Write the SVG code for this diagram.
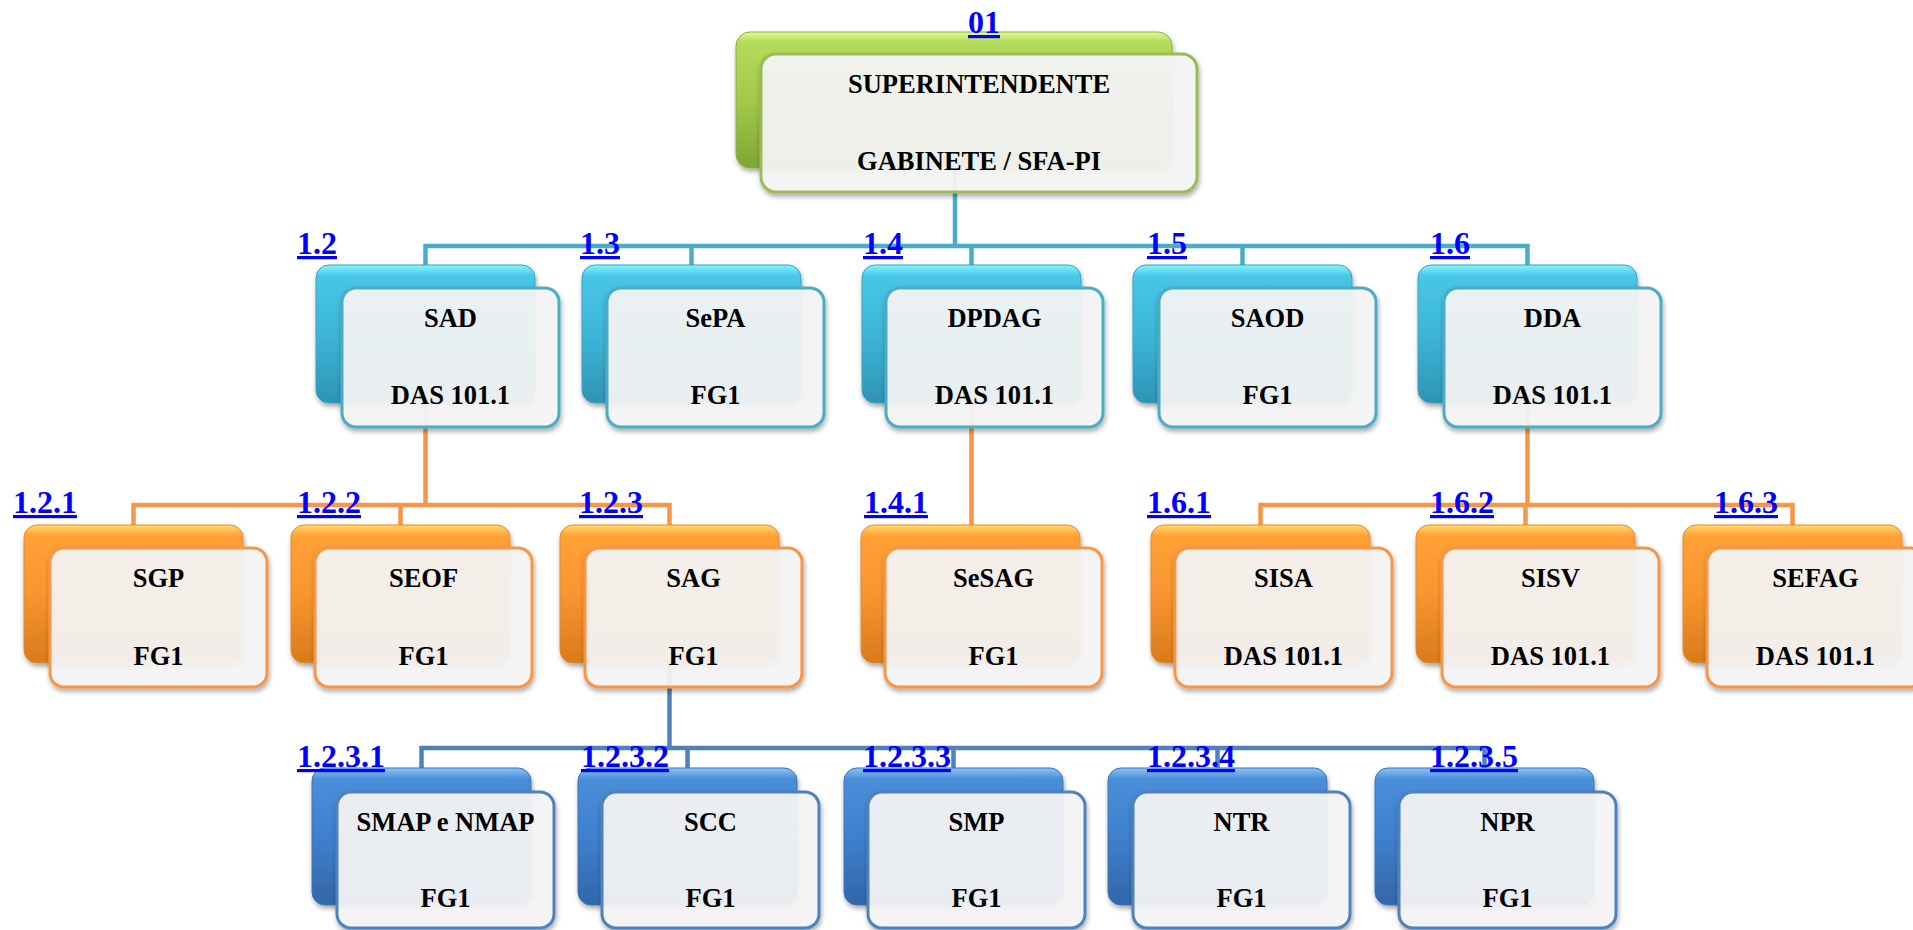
<svg xmlns="http://www.w3.org/2000/svg" width="1913" height="930" viewBox="0 0 1913 930">
<defs>
<linearGradient id="gG" x1="0" y1="0" x2="0" y2="1">
<stop offset="0" stop-color="#E2FA96"/><stop offset="0.07" stop-color="#B4DC5A"/><stop offset="0.5" stop-color="#A2CA48"/><stop offset="1" stop-color="#7FA534"/>
</linearGradient>
<linearGradient id="gT" x1="0" y1="0" x2="0" y2="1">
<stop offset="0" stop-color="#86F6FF"/><stop offset="0.08" stop-color="#48C6E6"/><stop offset="0.5" stop-color="#3DB6D9"/><stop offset="1" stop-color="#2E93B4"/>
</linearGradient>
<linearGradient id="gO" x1="0" y1="0" x2="0" y2="1">
<stop offset="0" stop-color="#FFDA6C"/><stop offset="0.08" stop-color="#FFA136"/><stop offset="0.5" stop-color="#FA9530"/><stop offset="1" stop-color="#D97A1C"/>
</linearGradient>
<linearGradient id="gB" x1="0" y1="0" x2="0" y2="1">
<stop offset="0" stop-color="#8CC4F4"/><stop offset="0.08" stop-color="#4A8EDA"/><stop offset="0.5" stop-color="#3F80CE"/><stop offset="1" stop-color="#3366A8"/>
</linearGradient>
<filter id="sh" x="-10%" y="-10%" width="125%" height="130%">
<feDropShadow dx="1" dy="3" stdDeviation="2.5" flood-color="#000" flood-opacity="0.35"/>
</filter>
<style>
.back{filter:url(#sh)}
.bg{fill:url(#gG);stroke:#8CB046;stroke-width:1}
.bt{fill:url(#gT);stroke:#3AA2C2;stroke-width:1}
.bo{fill:url(#gO);stroke:#E88A2E;stroke-width:1}
.bb{fill:url(#gB);stroke:#3C74B8;stroke-width:1}
.front{fill:#F6F6F6;fill-opacity:0.92;stroke-width:3;filter:url(#sh)}
.fg{stroke:#9BBB59}
.ft{stroke:#4BACC6}
.fo{stroke:#F79646}
.fb{stroke:#4F81BD}
.nt{font-family:"Liberation Serif","Times New Roman",serif;font-weight:bold;font-size:26.5px;fill:#000;text-anchor:middle}
.lbl{font-family:"Liberation Serif","Times New Roman",serif;font-weight:bold;font-size:32px;fill:#0000FF;text-decoration:underline;text-decoration-thickness:3px}
.c{fill:none;stroke-width:4.5}
.ct{stroke:#4BACC6}
.co{stroke:#F79646}
.cb{stroke:#4F81BD}
</style>
</defs>
<rect width="1913" height="930" fill="#FFFFFF"/>
<g id="connectors">
<path class="c ct" d="M955 168 V246"/>
<path class="c ct" d="M425.5 265 V246 H1527.5 V265"/>
<path class="c ct" d="M691.5 246 V265 M971.5 246 V265 M1242.5 246 V265"/>
<path class="c co" d="M425.5 403 V505"/>
<path class="c co" d="M133.5 525 V505 H669.5 V525 M400.5 505 V525"/>
<path class="c co" d="M971.5 403 V525"/>
<path class="c co" d="M1527.5 403 V505"/>
<path class="c co" d="M1260.5 525 V505 H1792.5 V525 M1525.5 505 V525"/>
<path class="c cb" d="M669.5 663 V748"/>
<path class="c cb" d="M421.5 768 V748 H1484.5 V768 M687.5 748 V768 M953.5 748 V768 M1217.5 748 V768"/>
</g>
<g id="n01">
<rect class="back bg" x="736" y="32" width="436" height="136" rx="14"/>
<rect class="front fg" x="761" y="54" width="436" height="138" rx="15"/>
<text class="nt" x="979" y="93">SUPERINTENDENTE</text>
<text class="nt" x="979" y="170">GABINETE / SFA-PI</text>
<text class="lbl" x="968" y="33">01</text>
</g>
<g id="n1-2">
<rect class="back bt" x="316" y="265" width="219" height="138" rx="13"/>
<rect class="front ft" x="342" y="288" width="217" height="139" rx="14"/>
<text class="nt" x="450.5" y="327">SAD</text>
<text class="nt" x="450.5" y="404">DAS 101.1</text>
<text class="lbl" x="297" y="254">1.2</text>
</g>
<g id="n1-3">
<rect class="back bt" x="582" y="265" width="219" height="138" rx="13"/>
<rect class="front ft" x="607" y="288" width="217" height="139" rx="14"/>
<text class="nt" x="715.5" y="327">SePA</text>
<text class="nt" x="715.5" y="404">FG1</text>
<text class="lbl" x="580" y="254">1.3</text>
</g>
<g id="n1-4">
<rect class="back bt" x="862" y="265" width="219" height="138" rx="13"/>
<rect class="front ft" x="886" y="288" width="217" height="139" rx="14"/>
<text class="nt" x="994.5" y="327">DPDAG</text>
<text class="nt" x="994.5" y="404">DAS 101.1</text>
<text class="lbl" x="863" y="254">1.4</text>
</g>
<g id="n1-5">
<rect class="back bt" x="1133" y="265" width="219" height="138" rx="13"/>
<rect class="front ft" x="1159" y="288" width="217" height="139" rx="14"/>
<text class="nt" x="1267.5" y="327">SAOD</text>
<text class="nt" x="1267.5" y="404">FG1</text>
<text class="lbl" x="1147" y="254">1.5</text>
</g>
<g id="n1-6">
<rect class="back bt" x="1418" y="265" width="219" height="138" rx="13"/>
<rect class="front ft" x="1444" y="288" width="217" height="139" rx="14"/>
<text class="nt" x="1552.5" y="327">DDA</text>
<text class="nt" x="1552.5" y="404">DAS 101.1</text>
<text class="lbl" x="1430" y="254">1.6</text>
</g>
<g id="n1-2-1">
<rect class="back bo" x="24" y="525" width="219" height="138" rx="13"/>
<rect class="front fo" x="50" y="548" width="217" height="139" rx="14"/>
<text class="nt" x="158.5" y="587">SGP</text>
<text class="nt" x="158.5" y="665">FG1</text>
<text class="lbl" x="13" y="513">1.2.1</text>
</g>
<g id="n1-2-2">
<rect class="back bo" x="291" y="525" width="219" height="138" rx="13"/>
<rect class="front fo" x="315" y="548" width="217" height="139" rx="14"/>
<text class="nt" x="423.5" y="587">SEOF</text>
<text class="nt" x="423.5" y="665">FG1</text>
<text class="lbl" x="297" y="513">1.2.2</text>
</g>
<g id="n1-2-3">
<rect class="back bo" x="560" y="525" width="219" height="138" rx="13"/>
<rect class="front fo" x="585" y="548" width="217" height="139" rx="14"/>
<text class="nt" x="693.5" y="587">SAG</text>
<text class="nt" x="693.5" y="665">FG1</text>
<text class="lbl" x="579" y="513">1.2.3</text>
</g>
<g id="n1-4-1">
<rect class="back bo" x="861" y="525" width="219" height="138" rx="13"/>
<rect class="front fo" x="885" y="548" width="217" height="139" rx="14"/>
<text class="nt" x="993.5" y="587">SeSAG</text>
<text class="nt" x="993.5" y="665">FG1</text>
<text class="lbl" x="864" y="513">1.4.1</text>
</g>
<g id="n1-6-1">
<rect class="back bo" x="1151" y="525" width="219" height="138" rx="13"/>
<rect class="front fo" x="1175" y="548" width="217" height="139" rx="14"/>
<text class="nt" x="1283.5" y="587">SISA</text>
<text class="nt" x="1283.5" y="665">DAS 101.1</text>
<text class="lbl" x="1147" y="513">1.6.1</text>
</g>
<g id="n1-6-2">
<rect class="back bo" x="1416" y="525" width="219" height="138" rx="13"/>
<rect class="front fo" x="1442" y="548" width="217" height="139" rx="14"/>
<text class="nt" x="1550.5" y="587">SISV</text>
<text class="nt" x="1550.5" y="665">DAS 101.1</text>
<text class="lbl" x="1430" y="513">1.6.2</text>
</g>
<g id="n1-6-3">
<rect class="back bo" x="1683" y="525" width="219" height="138" rx="13"/>
<rect class="front fo" x="1707" y="548" width="217" height="139" rx="14"/>
<text class="nt" x="1815.5" y="587">SEFAG</text>
<text class="nt" x="1815.5" y="665">DAS 101.1</text>
<text class="lbl" x="1714" y="513">1.6.3</text>
</g>
<g id="n1-2-3-1">
<rect class="back bb" x="312" y="768" width="219" height="137" rx="13"/>
<rect class="front fb" x="337" y="792" width="217" height="136" rx="14"/>
<text class="nt" x="445.5" y="831">SMAP e NMAP</text>
<text class="nt" x="445.5" y="907">FG1</text>
<text class="lbl" x="297" y="767">1.2.3.1</text>
</g>
<g id="n1-2-3-2">
<rect class="back bb" x="578" y="768" width="219" height="137" rx="13"/>
<rect class="front fb" x="602" y="792" width="217" height="136" rx="14"/>
<text class="nt" x="710.5" y="831">SCC</text>
<text class="nt" x="710.5" y="907">FG1</text>
<text class="lbl" x="581" y="767">1.2.3.2</text>
</g>
<g id="n1-2-3-3">
<rect class="back bb" x="844" y="768" width="219" height="137" rx="13"/>
<rect class="front fb" x="868" y="792" width="217" height="136" rx="14"/>
<text class="nt" x="976.5" y="831">SMP</text>
<text class="nt" x="976.5" y="907">FG1</text>
<text class="lbl" x="863" y="767">1.2.3.3</text>
</g>
<g id="n1-2-3-4">
<rect class="back bb" x="1108" y="768" width="219" height="137" rx="13"/>
<rect class="front fb" x="1133" y="792" width="217" height="136" rx="14"/>
<text class="nt" x="1241.5" y="831">NTR</text>
<text class="nt" x="1241.5" y="907">FG1</text>
<text class="lbl" x="1147" y="767">1.2.3.4</text>
</g>
<g id="n1-2-3-5">
<rect class="back bb" x="1375" y="768" width="219" height="137" rx="13"/>
<rect class="front fb" x="1399" y="792" width="217" height="136" rx="14"/>
<text class="nt" x="1507.5" y="831">NPR</text>
<text class="nt" x="1507.5" y="907">FG1</text>
<text class="lbl" x="1430" y="767">1.2.3.5</text>
</g>
</svg>
